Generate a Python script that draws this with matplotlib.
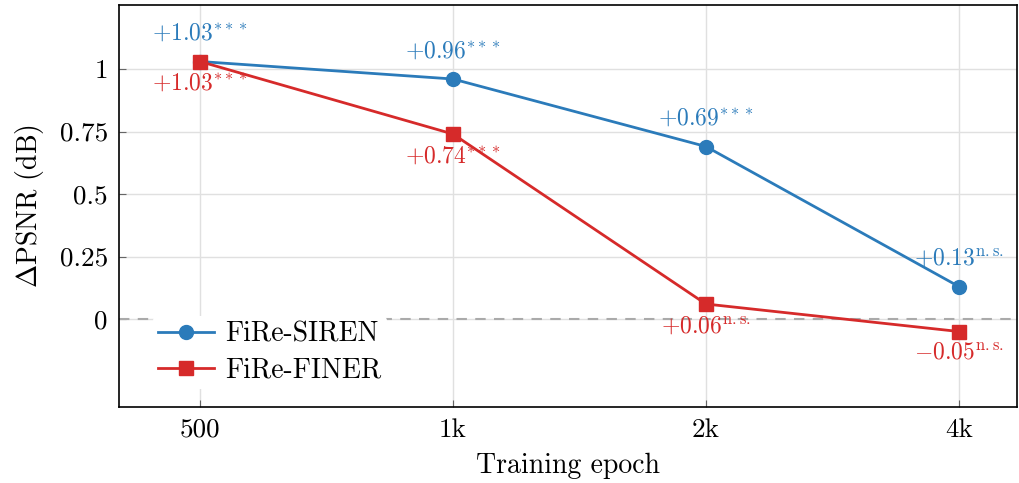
import numpy as np
import matplotlib
matplotlib.use("Agg")
import matplotlib.pyplot as plt

plt.rcParams['font.family'] = 'serif'
plt.rcParams['font.serif'] = ['cmr10']
plt.rcParams['mathtext.fontset'] = 'cm'
plt.rcParams['axes.unicode_minus'] = False
plt.rcParams['axes.formatter.use_mathtext'] = True

epochs = ['500', '1k', '2k', '4k']
siren = [1.03, 0.96, 0.69, 0.13]
finer = [1.03, 0.74, 0.06, -0.05]
siren_labels = [r'$+1.03^{\ast\ast\ast}$', r'$+0.96^{\ast\ast\ast}$', r'$+0.69^{\ast\ast\ast}$', r'$+0.13^{\mathrm{n.s.}}$']
finer_labels = [r'$+1.03^{\ast\ast\ast}$', r'$+0.74^{\ast\ast\ast}$', r'$+0.06^{\mathrm{n.s.}}$', r'$-0.05^{\mathrm{n.s.}}$']

blue = '#2b7bba'
red = '#d62a2a'

fig = plt.figure(figsize=(10.19, 4.83), dpi=100)
ax = fig.add_axes([119/1019, 1-407/483, (1017-119)/1019, (407-5)/483])

x = np.arange(len(epochs))
ax.axhline(0, color='#aaaaaa', lw=1.5, ls=(0, (5, 4)), zorder=1)
ax.plot(x, siren, color=blue, lw=2, marker='o', ms=10, label='FiRe-SIREN', zorder=3)
ax.plot(x, finer, color=red, lw=2, marker='s', ms=10, label='FiRe-FINER', zorder=3)

for xi, v, s in zip(x, siren, siren_labels):
    ax.annotate(s, (xi, v), xytext=(0, 12), textcoords='offset points',
                ha='center', va='bottom', color=blue, fontsize=17)
for xi, v, s in zip(x, finer, finer_labels):
    ax.annotate(s, (xi, v), xytext=(0, -8), textcoords='offset points',
                ha='center', va='top', color=red, fontsize=17)

ax.set_xlim(-0.32, 3.23)
ax.set_ylim(-0.352, 1.256)
ax.set_xticks(x)
ax.set_xticklabels(epochs)
ax.set_yticks([0, 0.25, 0.5, 0.75, 1])
ax.set_yticklabels(['0', '0.25', '0.5', '0.75', '1'])
ax.tick_params(direction='in', length=5, labelsize=19.5, pad=8, color='#666666')
ax.grid(True, color='#e0e0e0', lw=1)
ax.set_axisbelow(True)
for sp in ax.spines.values():
    sp.set_linewidth(1.2)

ax.set_xlabel('Training epoch', fontsize=20, labelpad=8)
ax.set_ylabel(r'$\Delta$PSNR (dB)', fontsize=20, labelpad=10)

leg = ax.legend(loc='lower left', bbox_to_anchor=(0.022, 0.01), fontsize=20,
                frameon=True, framealpha=1, edgecolor='none',
                handlelength=2.0, handletextpad=0.4, borderpad=0.2, labelspacing=0.35)

fig.savefig('out.png', dpi=100)
